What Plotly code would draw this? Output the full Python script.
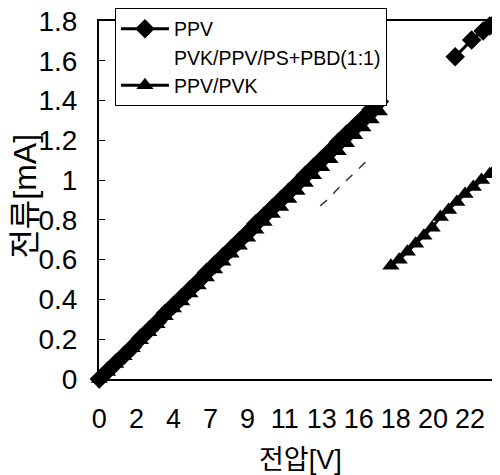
import plotly.graph_objects as go

# ---- data ----
x_tick_vals = [0, 2.25, 4.5, 6.75, 9, 11.25, 13.5, 15.75, 18, 20.25, 22.5]
x_tick_text = ["0", "2", "4", "7", "9", "11", "13", "16", "18", "20", "22"]
y_tick_vals = [0, 0.2, 0.4, 0.6, 0.8, 1.0, 1.2, 1.4, 1.6, 1.8]
y_tick_text = ["0", "0.2", "0.4", "0.6", "0.8", "1", "1.2", "1.4", "1.6", "1.8"]

ppv_v = [0, 0.5, 1, 1.5, 2, 2.5, 3, 3.5, 4, 4.5, 5, 5.5, 6, 6.5, 7, 7.5, 8, 8.5,
         9, 9.5, 10, 10.5, 11, 11.5, 12, 12.5, 13, 13.5, 14, 14.5, 15, 15.5, 16,
         16.5, 17, None, 21.6, 22.6, 23.3, 23.7, 24.0]
ppv_i = [0.00, 0.04, 0.08, 0.12, 0.16, 0.205, 0.245, 0.285, 0.33, 0.37, 0.41,
         0.45, 0.49, 0.535, 0.575, 0.615, 0.655, 0.695, 0.735, 0.78, 0.82, 0.86,
         0.90, 0.94, 0.98, 1.025, 1.065, 1.105, 1.145, 1.19, 1.23, 1.27, 1.31,
         1.355, 1.395, None, 1.62, 1.705, 1.75, 1.775, 1.79]

blend_v = [13.4, 13.9, 14.4, 14.9, 15.4, 15.9, 16.4]
blend_i = [0.87, 0.905, 0.95, 0.99, 1.03, 1.07, 1.11]

pvk_v = [0, 0.5, 1, 1.5, 2, 2.5, 3, 3.5, 4, 4.5, 5, 5.5, 6, 6.5, 7, 7.5, 8, 8.5,
         9, 9.5, 10, 10.5, 11, 11.5, 12, 12.5, 13, 13.5, 14, 14.5, 15, 15.5, 16,
         16.5, 17, None, 17.7, 18.2, 18.7, 19.2, 19.7, 20.2, 20.7, 21.2, 21.7,
         22.2, 22.7, 23.2, 23.7, 24.1]
pvk_i = [0.00, 0.035, 0.075, 0.115, 0.155, 0.195, 0.235, 0.275, 0.315, 0.355,
         0.39, 0.43, 0.47, 0.51, 0.55, 0.59, 0.63, 0.67, 0.71, 0.75, 0.79, 0.83,
         0.865, 0.905, 0.945, 0.985, 1.025, 1.065, 1.105, 1.145, 1.185, 1.225,
         1.265, 1.305, 1.345, None, 0.57, 0.60, 0.64, 0.68, 0.72, 0.76, 0.815,
         0.85, 0.89, 0.93, 0.965, 1.00, 1.03, 1.06]

FONT = "Liberation Sans, Arial, Noto Sans CJK KR, sans-serif"

fig = go.Figure()
fig.add_trace(go.Scatter(
    x=ppv_v, y=ppv_i, name="PPV", mode="lines+markers",
    line=dict(color="black", width=3),
    marker=dict(symbol="diamond", size=15, color="black"),
    connectgaps=False, cliponaxis=False))
# legend-only entry (the blend curve has no visible legend symbol)
fig.add_trace(go.Scatter(
    x=[None], y=[None], name="PVK/PPV/PS+PBD(1:1)", mode="lines",
    line=dict(color="rgba(0,0,0,0)", width=1)))
fig.add_trace(go.Scatter(
    x=pvk_v, y=pvk_i, name="PPV/PVK", mode="lines+markers",
    line=dict(color="black", width=3),
    marker=dict(symbol="triangle-up", size=15, color="black"),
    connectgaps=False, cliponaxis=False))
fig.add_trace(go.Scatter(
    x=blend_v, y=blend_i, name="PVK/PPV/PS+PBD(1:1) curve", mode="lines",
    line=dict(color="#333333", width=1.5, dash="dash"), showlegend=False))

fig.update_layout(
    width=492, height=467,
    margin=dict(l=91, r=2, t=13, b=96, autoexpand=False),
    paper_bgcolor="white", plot_bgcolor="white",
    font=dict(family=FONT, color="black"),
    showlegend=True,
    legend=dict(x=0.04, y=1.035, xanchor="left", yanchor="top",
                bgcolor="white", bordercolor="black", borderwidth=1,
                font=dict(size=19.5, family=FONT, color="black"),
                itemwidth=48, traceorder="normal"),
    annotations=[
        dict(text="전압[V]", xref="paper", yref="paper", x=0.504, y=-0.225,
             xanchor="center", yanchor="middle", showarrow=False,
             font=dict(size=27, family=FONT, color="black")),
        dict(text="전류[mA]", xref="paper", yref="paper", x=-0.185, y=0.51,
             xanchor="center", yanchor="middle", showarrow=False, textangle=-90,
             font=dict(size=32, family=FONT, color="black")),
    ],
)
fig.update_xaxes(range=[-0.02, 24.2], tickvals=x_tick_vals, ticktext=x_tick_text,
                 showgrid=False, zeroline=False, showline=True, linecolor="black",
                 linewidth=2, mirror=True, ticks="", automargin=False,
                 ticklabeloverflow="allow",
                 tickfont=dict(size=27, family=FONT, color="black"),
                 ticklabelstandoff=15)
fig.update_yaxes(range=[0, 1.8], tickvals=y_tick_vals, ticktext=y_tick_text,
                 showgrid=False, zeroline=False, showline=True, linecolor="black",
                 linewidth=2, mirror=True, ticks="inside", ticklen=6,
                 tickcolor="black", tickwidth=1, automargin=False,
                 ticklabeloverflow="allow",
                 tickfont=dict(size=28, family=FONT, color="black"),
                 ticklabelstandoff=14)

fig.write_html("out.html")
